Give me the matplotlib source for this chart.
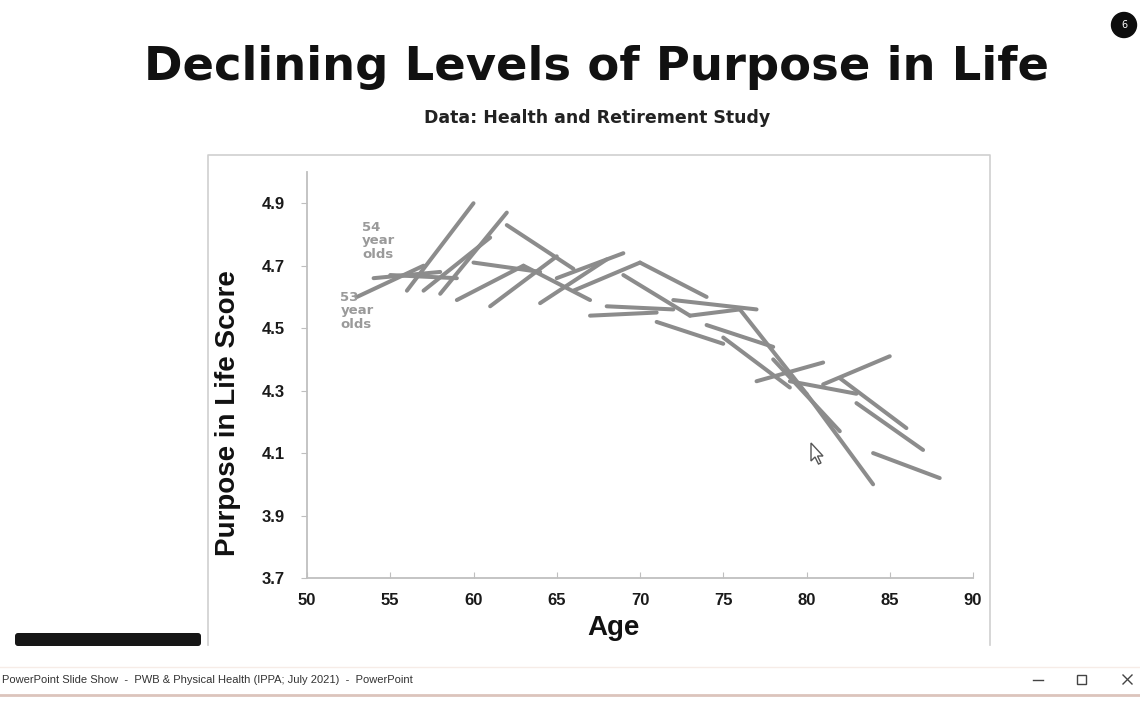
import matplotlib
matplotlib.use("Agg")
import matplotlib.pyplot as plt
from matplotlib.patches import Rectangle, FancyBboxPatch, Circle, Polygon

# one line per age cohort
start_age = [53, 54, 55, 56, 57, 58, 59, 60, 61, 62, 63, 64, 65, 66, 67, 68,
             69, 70, 71, 72, 73, 74, 75, 76, 77, 78, 79, 80, 81, 82, 83, 84]
end_age = [57, 58, 59, 60, 61, 62, 63, 64, 65, 66, 67, 68, 69, 70, 71, 72,
           73, 74, 75, 77, 76, 78, 79, 80, 81, 82, 83, 84, 85, 86, 87, 88]
start_score = [4.60, 4.66, 4.67, 4.62, 4.62, 4.61, 4.59, 4.71, 4.57, 4.83, 4.70, 4.58,
               4.66, 4.62, 4.54, 4.57, 4.67, 4.71, 4.52, 4.59, 4.54, 4.51, 4.47, 4.56,
               4.33, 4.40, 4.33, 4.29, 4.32, 4.34, 4.26, 4.10]
end_score = [4.70, 4.68, 4.66, 4.90, 4.79, 4.87, 4.70, 4.68, 4.73, 4.69, 4.59, 4.72,
             4.74, 4.71, 4.55, 4.56, 4.54, 4.60, 4.45, 4.56, 4.56, 4.44, 4.31, 4.29,
             4.39, 4.17, 4.29, 4.00, 4.41, 4.18, 4.11, 4.02]

x_ticks = [50, 55, 60, 65, 70, 75, 80, 85, 90]
y_ticks = [3.7, 3.9, 4.1, 4.3, 4.5, 4.7, 4.9]

W, H = 1140, 702
fig = plt.figure(figsize=(W / 100, H / 100), dpi=100)
fig.patch.set_facecolor("white")

# main chart axes, placed in pixel terms
L, R, T, B = 307, 973, 172, 578
ax = fig.add_axes([L / W, (H - B) / H, (R - L) / W, (B - T) / H])
ax.set_xlim(50, 90)
ax.set_ylim(3.7, 5.0)

line_color = "#8c8c8c"
for a0, a1, s0, s1 in zip(start_age, end_age, start_score, end_score):
    ax.plot([a0, a1], [s0, s1], color=line_color, lw=2.9, solid_capstyle="round")

ax.set_xticks(x_ticks)
ax.set_yticks(y_ticks)
ax.set_xticklabels([str(v) for v in x_ticks])
ax.set_yticklabels(["%.1f" % v for v in y_ticks])
for lab in ax.get_xticklabels() + ax.get_yticklabels():
    lab.set_fontfamily("Liberation Sans")
    lab.set_fontweight("bold")
    lab.set_fontsize(12)
    lab.set_color("#1a1a1a")
for side in ["top", "right"]:
    ax.spines[side].set_visible(False)
for side in ["left", "bottom"]:
    ax.spines[side].set_color("#bfbfbf")
    ax.spines[side].set_linewidth(1.3)
ax.tick_params(axis="y", direction="out", length=4, color="#bfbfbf", pad=12)
ax.tick_params(axis="x", direction="in", length=4, color="#bfbfbf", pad=11)

ax.set_xlabel("Age", fontfamily="Liberation Sans", fontweight="bold",
              fontsize=20, color="#111111")
ax.set_ylabel("Purpose in Life Score", fontfamily="Liberation Sans",
              fontweight="bold", fontsize=20, color="#111111")
ax.xaxis.set_label_coords((614 - L) / (R - L), (B - 628) / (B - T))
ax.yaxis.set_label_coords((228 - L) / (R - L), (B - 413) / (B - T))
ax.xaxis.label.set_va("center")
ax.yaxis.label.set_va("center")

# cohort notes
ax.text(53.3, 4.78, "54\nyear\nolds", fontsize=9.5, fontweight="bold", color="#9a9a9a",
        fontfamily="DejaVu Sans", va="center", ha="left", linespacing=1.05)
ax.text(52.0, 4.555, "53\nyear\nolds", fontsize=9.5, fontweight="bold", color="#9a9a9a",
        fontfamily="DejaVu Sans", va="center", ha="left", linespacing=1.05)

# overlay in pixel coordinates for the slide furniture
ov = fig.add_axes([0, 0, 1, 1], zorder=5)
ov.set_xlim(0, W)
ov.set_ylim(H, 0)
ov.axis("off")
ov.patch.set_alpha(0)

# chart frame (bottom is cut by the window)
ov.plot([208, 208, 990, 990], [645, 155, 155, 645], color="#cfcfcf", lw=1.2)

ov.text(597, 68, "Declining Levels of Purpose in Life", fontsize=33.5,
        fontweight="bold", fontfamily="DejaVu Sans", ha="center", va="center",
        color="#111111")
ov.text(597, 118, "Data: Health and Retirement Study", fontsize=12.5,
        fontweight="bold", fontfamily="DejaVu Sans", ha="center", va="center",
        color="#222222")

# slide number badge
ov.add_patch(Circle((1124, 25), 12.5, color="#0d0d0d"))
ov.text(1124, 25, "6", color="white", fontsize=7, ha="center", va="center",
        fontfamily="DejaVu Sans")

# mouse pointer
ov.add_patch(Polygon([(811, 443), (811, 461), (815, 457), (818.5, 464), (821, 463),
                      (817.5, 456), (823, 456)], closed=True,
                     facecolor="white", edgecolor="#555555", lw=1))

# dark caption box bottom left
ov.add_patch(FancyBboxPatch((15, 633), 186, 13, boxstyle="round,pad=0,rounding_size=3",
                            facecolor="#161616", edgecolor="none"))
ov.add_patch(Rectangle((0, 647), W, 19, facecolor="white", edgecolor="none"))

# window title bar
ov.plot([0, W], [667, 667], color="#f6ece7", lw=1)
ov.plot([0, W], [695, 695], color="#dcc4bc", lw=2)
ov.text(2, 680, "PowerPoint Slide Show  -  PWB & Physical Health (IPPA; July 2021)  -  PowerPoint",
        fontsize=8, fontfamily="Liberation Sans", color="#333333", ha="left", va="center")
ov.plot([1033, 1043], [680, 680], color="#444444", lw=1)
ov.add_patch(Rectangle((1077, 675), 9, 9, facecolor="none", edgecolor="#444444", lw=1))
ov.plot([1123, 1132], [675, 684], color="#444444", lw=1)
ov.plot([1123, 1132], [684, 675], color="#444444", lw=1)

fig.savefig("out.png", dpi=100, facecolor="white")
